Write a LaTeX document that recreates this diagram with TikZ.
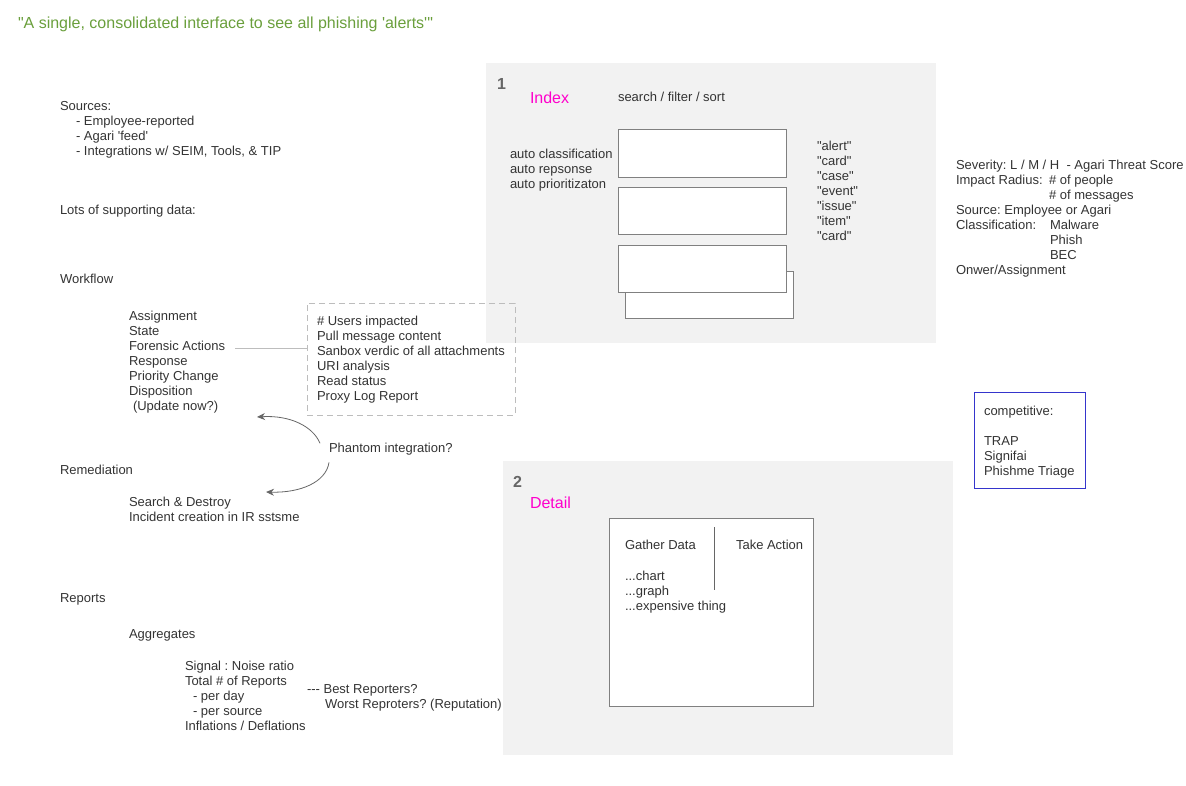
\documentclass[tikz,border=0pt]{standalone}
\usepackage{fontspec}
\setmainfont{Liberation Sans}[Ligatures=TeXOff]
\usetikzlibrary{arrows.meta}
\definecolor{txtgray}{HTML}{333333}
\definecolor{panelfill}{HTML}{F2F2F2}
\definecolor{cardline}{HTML}{808080}
\definecolor{dashline}{HTML}{BDBDBD}
\definecolor{hotpink}{HTML}{FF00CC}
\definecolor{titlegreen}{HTML}{6A9F3C}
\definecolor{compblue}{HTML}{3535CC}
\tikzset{%
    txt/.style={inner sep=0pt,outer sep=0pt,anchor=north west,align=left,yshift=-1pt,text=txtgray,font=\fontsize{13}{15}\selectfont},
    heading/.style={txt,text=hotpink,font=\fontsize{16}{18}\selectfont},
    panelnum/.style={txt,text=black!60,font=\bfseries\fontsize{16}{18}\selectfont},
    card/.style={draw=cardline,fill=white,line width=1pt},
    dashbox/.style={draw=dashline,dash pattern=on 6pt off 4pt,line width=0.8pt,anchor=north west,inner sep=0pt,outer sep=0pt,minimum width=208pt,minimum height=112pt},
    compbox/.style={draw=compblue,line width=1pt,anchor=north west,inner sep=0pt,outer sep=0pt,minimum width=111pt,minimum height=96pt},
    curvearrow/.style={-{Stealth[length=8pt,width=7pt]},draw=black!60,line width=0.8pt},
}

\begin{document}
\frenchspacing
\begin{tikzpicture}[x=1pt,y=-1pt]
        \useasboundingbox (0,0) rectangle (1186,785);

        % the two screens
        \fill[panelfill] (486,63) rectangle (936,343);
        \fill[panelfill] (503,461) rectangle (953,755);

        \node[txt,text=titlegreen,font=\fontsize{16}{18}\selectfont] (title) at (18,16.3) {"A single, consolidated interface to see all phishing 'alerts'"};

        % left column
        \node[txt] (sources) at (60,100.3) {Sources:};
        \node[txt] (sourceItems) at (76,115.3) {- Employee-reported\\- Agari 'feed'\\- Integrations w/ SEIM, Tools, \& TIP};
        \node[txt] (supData) at (60,204.3) {Lots of supporting data:};
        \node[txt] (workflow) at (60,273.3) {Workflow};
        \node[txt] (wfSteps) at (129,310.3) {Assignment\\State\\Forensic Actions\\Response\\Priority Change\\Disposition\\\hspace*{4pt}(Update now?)};
        \node[txt] (remediation) at (60,464.3) {Remediation};
        \node[txt] (remSteps) at (129,496.3) {Search \& Destroy\\Incident creation in IR sstsme};
        \node[txt] (reports) at (60,592.3) {Reports};
        \node[txt] (aggregates) at (129,628.3) {Aggregates};
        \node[txt] (aggItems) at (185,660.3) {Signal : Noise ratio\\Total \# of Reports\\\hspace*{8pt}- per day\\\hspace*{8pt}- per source\\Inflations / Deflations};
        \node[txt] (reporters) at (307,683.3) {--- Best Reporters?\\\hspace*{18pt}Worst Reproters? (Reputation)};

        % forensic actions
        \node[dashbox] (forensicBox) at (307,303) {};
        \node[txt] (forensicList) at (317,315.3) {\# Users impacted\\Pull message content\\Sanbox verdic of all attachments\\URI analysis\\Read status\\Proxy Log Report};
        \coordinate (forensicEnd) at (235,348);
        \draw[dashline,line width=0.8pt] (forensicEnd) -- (forensicEnd -| forensicBox.west);

        \node[txt] (phantom) at (329,442.3) {Phantom integration?};
        \coordinate (wfTip) at (257,417);
        \coordinate (remTip) at (266,492);
        \draw[curvearrow] ([shift={(-9,0)}]phantom.north west) .. controls +(-7,-17) and +(33,-2) .. (wfTip);
        \draw[curvearrow] ([shift={(0,7)}]phantom.south west) .. controls +(-3,20) and +(34,1) .. (remTip);

        % screen 1
        \node[panelnum] (num1) at (497,77.3) {1};
        \node[heading] (index) at (530,91.3) {Index};
        \node[txt] (search) at (618,91.3) {search / filter / sort};
        \node[txt] (autoList) at (510,148.3) {auto classification\\auto repsonse\\auto prioritizaton};
        \draw[card] (618,129) rectangle (786,177);
        \draw[card] (618,187) rectangle (786,234);
        \draw[card] (625,271) rectangle (793,318);
        \draw[card] (618,245) rectangle (786,292);
        \node[txt] (names) at (817,140.3) {"alert"\\"card"\\"case"\\"event"\\"issue"\\"item"\\"card"};

        % attributes
        \node[txt] (attrs) at (956,159.3) {Severity: L / M / H\ \ - Agari Threat Score\\Impact Radius:\\\mbox{}\\Source: Employee or Agari\\Classification:\\\mbox{}\\\mbox{}\\Onwer/Assignment};
        \node[txt] (impact) at (1049,174.3) {\# of people\\\# of messages};
        \node[txt] (classes) at (1050,219.3) {Malware\\Phish\\BEC};

        % competitors
        \node[compbox] (compBox) at (974,392) {};
        \node[txt] (compList) at (984,405.3) {competitive:\\\mbox{}\\TRAP\\Signifai\\Phishme Triage};

        % screen 2
        \node[panelnum] (num2) at (513,475.3) {2};
        \node[heading] (detail) at (530,496.3) {Detail};
        \draw[card] (609,518) rectangle (813,706);
        \draw[black!60,line width=0.9pt] (714,527) -- (714,590);
        \node[txt] (gather) at (625,539.3) {Gather Data};
        \node[txt] (takeAction) at (736,539.3) {Take Action};
        \node[txt] (gatherList) at (625,570.3) {...chart\\...graph\\...expensive thing};
    \end{tikzpicture}
\end{document}
